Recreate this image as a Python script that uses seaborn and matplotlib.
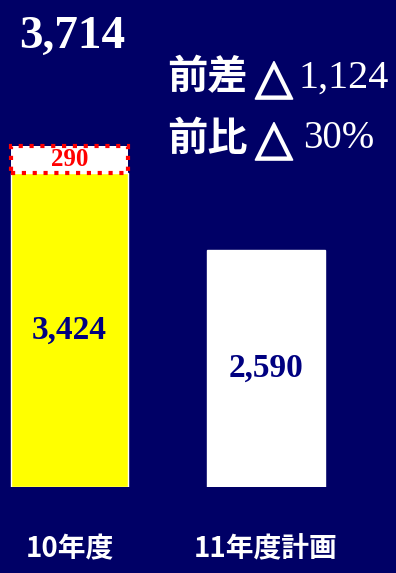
import matplotlib
matplotlib.use("Agg")
import matplotlib.pyplot as plt
import matplotlib.patheffects as pe
import seaborn as sns

# Sales volume by fiscal year
categories = ["10年度", "11年度計画"]
base_values = [3424, 2590]
extra_values = [290, 0]

total_prev = base_values[0] + extra_values[0]
plan = base_values[1]
diff = total_prev - plan
ratio = round(diff / total_prev * 100)

NAVY_BG = "#000066"
NAVY_TXT = "#000080"
W, H = 396, 573

sns.set_theme(style="white")
plt.rcParams["font.family"] = ["Liberation Serif", "Noto Sans CJK JP", "DejaVu Sans"]

fig = plt.figure(figsize=(W / 100, H / 100), dpi=100)
fig.patch.set_facecolor(NAVY_BG)
ax = fig.add_axes([0, 86 / H, 1, 487 / H])
ax.set_facecolor(NAVY_BG)

sns.barplot(x=categories, y=base_values, hue=categories,
            palette=["#FFFF00", "#FFFFFF"], saturation=1, width=0.6,
            legend=False, ax=ax)

# additional segment on top of the first bar (dashed red frame)
ax.bar(0, extra_values[0], bottom=base_values[0], width=0.6, color="white",
       edgecolor="red", linewidth=3, linestyle=(0, (1, 1.6)), zorder=3)

ax.set_xlim(-0.354, 1.662)
ax.set_ylim(0, 5311)
ax.axis("off")

# values inside the bars
for i, v in enumerate(base_values):
    ax.text(i, v / 2, f"{v:,}", ha="center", va="center", color=NAVY_TXT,
            fontsize=24, fontweight="bold", family="Liberation Serif")
ax.text(0, base_values[0] + extra_values[0] / 2, f"{extra_values[0]:,}",
        ha="center", va="center", color="red", fontsize=18,
        fontweight="bold", family="Liberation Serif", zorder=4)


def px(x, y):
    return x / W, 1 - y / H


# total above the first bar
fig.text(*px(72, 37), f"{total_prev:,}", ha="center", va="center",
         color="white", fontsize=34, fontweight="bold",
         family="Liberation Serif")

# year-over-year difference and ratio
rows = [("前差", f"{diff:,}", 78, 298, 29), ("前比", f"{ratio}%", 139, 303, 28)]
for head, val, y, xv, fs in rows:
    fig.text(*px(167, y), head, ha="left", va="center", color="white",
             fontsize=29, fontweight="bold", family="Noto Sans CJK JP")
    fig.text(*px(274, y + 1), "△", ha="center", va="center", color="white",
             fontsize=35, fontweight="bold", family="DejaVu Sans",
             path_effects=[pe.withStroke(linewidth=1.2, foreground="white")])
    fig.text(*px(xv, y), val, ha="left", va="center", color="white",
             fontsize=fs, family="Liberation Serif")

# category labels under the bars
for i, c in enumerate(categories):
    x_px = 69.5 + i * 196.5
    fig.text(*px(x_px, 549), c, ha="center", va="center", color="white",
             fontsize=20, fontweight="bold", family="Noto Sans CJK JP")

fig.savefig("out.png", dpi=100, facecolor=fig.get_facecolor())
